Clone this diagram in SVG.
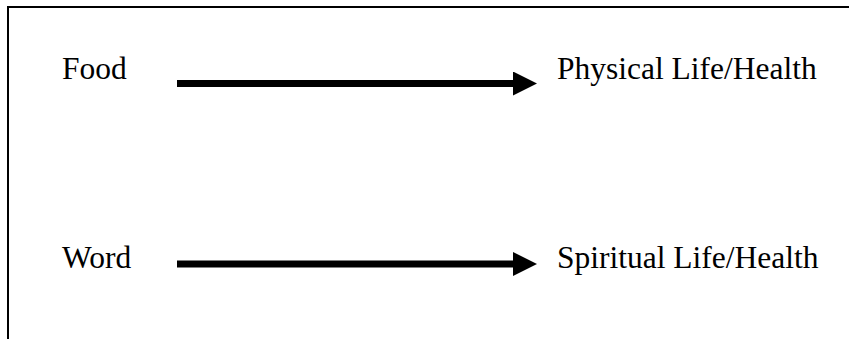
<svg xmlns="http://www.w3.org/2000/svg" width="849" height="339" viewBox="0 0 849 339">
<style>
.t{font-family:"Liberation Serif","Times New Roman",serif;font-size:31.5px;fill:#000}
.frame{stroke:#000;stroke-width:2;fill:none}
.arr{stroke:#000;stroke-width:7;fill:none}
</style>
<defs>
<marker id="ah" markerUnits="userSpaceOnUse" markerWidth="24" markerHeight="24" refX="0" refY="12" orient="auto">
<path d="M0,0 L24,12 L0,24 Z" fill="#000"/>
</marker>
</defs>
<rect width="849" height="339" fill="#fff"/>
<path class="frame" d="M8,339 V7 H849"/>
<g id="food"><text class="t" x="62" y="79">Food</text></g>
<g id="physical"><text class="t" x="557" y="79">Physical Life/Health</text></g>
<g id="word"><text class="t" x="62" y="268">Word</text></g>
<g id="spiritual"><text class="t" x="557" y="268">Spiritual Life/Health</text></g>
<g id="connectors">
<line class="arr" x1="177" y1="83.5" x2="513" y2="83.5" marker-end="url(#ah)"/>
<line class="arr" x1="177" y1="264" x2="513" y2="264" marker-end="url(#ah)"/>
</g>
</svg>
